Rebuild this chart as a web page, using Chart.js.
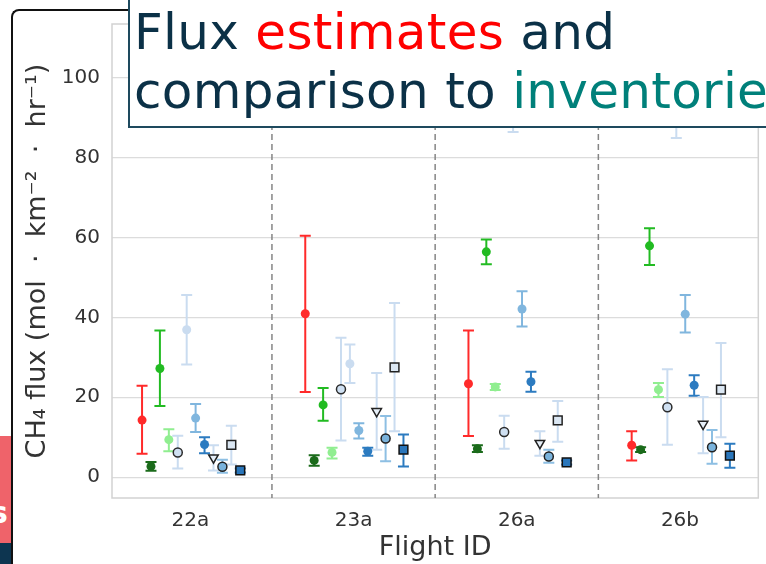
<!DOCTYPE html>
<html>
<head>
<meta charset="utf-8">
<script src="https://cdn.jsdelivr.net/npm/chart.js@4.4.0/dist/chart.umd.min.js"></script>
<style>
  html, body { margin: 0; padding: 0; background: #fff; overflow: hidden; }
  #wrap { position: relative; width: 766px; height: 564px; overflow: hidden; }
  #frame { position: absolute; left: 11px; top: 9px; width: 300px; height: 600px;
           border-left: 2px solid #111; border-top: 2px solid #111; border-top-left-radius: 8px; }
  #slideRed { position: absolute; left: 0; top: 436px; width: 11px; height: 107px; background: #ef636a; overflow: hidden; }
  #slideRed span { position: absolute; left: -10px; top: 62px; color: #fff; font: bold 30px "DejaVu Sans"; line-height: 30px; }
  #slideNavy { position: absolute; left: 0; top: 543px; width: 11px; height: 21px; background: #0d3550; }
  canvas { position: absolute; left: 0; top: 0; }
  #titleBox { position: absolute; left: 128px; top: -5px; width: 700px; height: 133px; box-sizing: border-box;
              background: #fff; border: 2px solid #1e4a5e; padding: 6px 0 0 4px; letter-spacing: 0.3px;
              font-family: "DejaVu Sans"; font-size: 50px; line-height: 59px; color: #0b3147; white-space: nowrap; }
  .red { color: #ff0000; }
  .teal { color: #00807a; }
</style>
</head>
<body>
<div id="wrap">
  <div id="frame"></div>
  <div id="slideRed"><span>s</span></div>
  <div id="slideNavy"></div>
  <canvas id="fluxChart" width="766" height="564"></canvas>
  <div id="titleBox">Flux <span class="red">estimates</span> and<br>comparison to <span class="teal">inventories</span></div>
</div>
<script>
// Vluchten en ticks
const flights = ['22a', '23a', '26a', '26b'];
const yTicks = [0, 20, 40, 60, 80, 100];

// Waarden per reeks (flux en [onder, boven] foutgrenzen)
const redFlux = [14.3, 40.9, 23.4, 8.0];
const redErr = [[5.9, 22.9], [21.3, 60.4], [10.3, 36.7], [4.2, 11.5]];
const darkGreenFlux = [2.7, 4.2, 7.1, 6.9];
const darkGreenErr = [[1.6, 3.8], [2.9, 5.5], [6.3, 8.0], [6.3, 7.5]];
const greenFlux = [27.2, 18.1, 56.4, 57.9];
const greenErr = [[17.8, 36.7], [14.1, 22.3], [53.3, 59.5], [53.1, 62.3]];
const lightGreenFlux = [9.4, 6.2, 22.6, 21.9];
const lightGreenErr = [[6.5, 12.0], [4.7, 7.4], [21.8, 23.3], [20.1, 23.6]];
const openCircleFlux = [6.2, 22.0, 11.3, 17.5];
const openCircleErr = [[2.2, 10.4], [9.2, 34.9], [7.1, 15.4], [8.1, 27.0]];
const paleBlueFlux = [36.9, 28.4, 95.5, 94.0];
const paleBlueErr = [[28.2, 45.6], [23.6, 33.2], [86.4, 104.5], [84.9, 103.0]];
const midBlueFlux = [14.8, 11.7, 42.1, 40.8];
const midBlueErr = [[11.3, 18.3], [9.7, 13.5], [37.7, 46.5], [36.2, 45.6]];
const blueFlux = [8.2, 6.5, 23.9, 23.0];
const blueErr = [[6.0, 10.0], [5.4, 7.4], [21.4, 26.4], [20.4, 25.5]];
const triangleFlux = [4.9, 16.5, 8.5, 13.3];
const triangleErr = [[1.7, 8.0], [6.9, 26.1], [5.4, 11.5], [6.0, 20.1]];
const blueCircleFlux = [2.6, 9.7, 5.2, 7.5];
const blueCircleErr = [[1.1, 4.4], [4.0, 15.3], [3.6, 6.9], [3.4, 11.8]];
const paleSquareFlux = [8.1, 27.5, 14.2, 21.9];
const paleSquareErr = [[3.2, 12.9], [11.5, 43.6], [8.9, 19.1], [10.0, 33.6]];
const blueSquareFlux = [1.7, 6.9, 3.7, 5.4];
const blueSquareErr = [[1.2, 2.2], [2.7, 10.7], [3.2, 4.2], [2.4, 8.4]];

// Opmaak per reeks
const series = [
    { flux: redFlux, err: redErr, line: '#ff2a2a', fill: '#ff2a2a', edge: '#ff2a2a', shape: 'circle', r: 4.5, bw: 0 },
    { flux: darkGreenFlux, err: darkGreenErr, line: '#1b6b1b', fill: '#1b6b1b', edge: '#1b6b1b', shape: 'circle', r: 4.5, bw: 0 },
    { flux: greenFlux, err: greenErr, line: '#22bb22', fill: '#22bb22', edge: '#22bb22', shape: 'circle', r: 4.5, bw: 0 },
    { flux: lightGreenFlux, err: lightGreenErr, line: '#90ee90', fill: '#90ee90', edge: '#90ee90', shape: 'circle', r: 4.5, bw: 0 },
    { flux: openCircleFlux, err: openCircleErr, line: '#cadcf0', fill: '#cfe0f2', edge: '#2b2b2b', shape: 'circle', r: 4.5, bw: 1.5 },
    { flux: paleBlueFlux, err: paleBlueErr, line: '#cadcf0', fill: '#cadcf0', edge: '#cadcf0', shape: 'circle', r: 4.5, bw: 0 },
    { flux: midBlueFlux, err: midBlueErr, line: '#80b6de', fill: '#80b6de', edge: '#80b6de', shape: 'circle', r: 4.5, bw: 0 },
    { flux: blueFlux, err: blueErr, line: '#2c7bc0', fill: '#2c7bc0', edge: '#2c7bc0', shape: 'circle', r: 4.5, bw: 0 },
    { flux: triangleFlux, err: triangleErr, line: '#cadcf0', fill: '#e6eff8', edge: '#222', shape: 'triangle', r: 5.5, bw: 1.5, rot: 180 },
    { flux: blueCircleFlux, err: blueCircleErr, line: '#8dbfe3', fill: '#7ab3dc', edge: '#222', shape: 'circle', r: 4.5, bw: 1.5 },
    { flux: paleSquareFlux, err: paleSquareErr, line: '#cadcf0', fill: '#dbe7f3', edge: '#222', shape: 'rect', r: 6.2, bw: 1.5 },
    { flux: blueSquareFlux, err: blueSquareErr, line: '#2c7bc0', fill: '#2a76bb', edge: '#111', shape: 'rect', r: 6.2, bw: 1.5 }
];

const step = 0.0547; // verschuiving tussen reeksen binnen een vlucht

const datasets = series.map((s, i) => ({
    data: s.flux.map((v, k) => ({ x: k + (i - 5.5) * step + 0.005, y: v, lo: s.err[k][0], hi: s.err[k][1] })),
    showLine: false,
    pointStyle: s.shape,
    pointRadius: s.r,
    pointHoverRadius: s.r,
    pointBackgroundColor: s.fill,
    pointBorderColor: s.edge,
    pointBorderWidth: s.bw,
    pointRotation: s.rot || 0,
    errColor: s.line
}));

// Kader, scheidingslijnen en foutbalken
const decorations = {
    id: 'decorations',
    beforeDatasetsDraw(chart) {
        const { ctx, chartArea: a, scales: { x, y } } = chart;
        ctx.save();
        ctx.strokeStyle = '#d2d2d2';
        ctx.lineWidth = 1.5;
        ctx.strokeRect(a.left, a.top, a.right - a.left, a.bottom - a.top);

        ctx.strokeStyle = '#858585';
        ctx.setLineDash([6, 4]);
        for (let i = 0; i < flights.length - 1; i++) {
            const px = x.getPixelForValue(i + 0.5);
            ctx.beginPath();
            ctx.moveTo(px, a.top);
            ctx.lineTo(px, a.bottom);
            ctx.stroke();
        }
        ctx.setLineDash([]);

        ctx.beginPath();
        ctx.rect(a.left, a.top, a.right - a.left, a.bottom - a.top);
        ctx.clip();
        ctx.lineWidth = 2;
        chart.data.datasets.forEach(ds => {
            ctx.strokeStyle = ds.errColor;
            ds.data.forEach(p => {
                const px = x.getPixelForValue(p.x);
                const y0 = y.getPixelForValue(p.lo);
                const y1 = y.getPixelForValue(p.hi);
                ctx.beginPath();
                ctx.moveTo(px, y0); ctx.lineTo(px, y1);
                ctx.moveTo(px - 5.5, y0); ctx.lineTo(px + 5.5, y0);
                ctx.moveTo(px - 5.5, y1); ctx.lineTo(px + 5.5, y1);
                ctx.stroke();
            });
        });
        ctx.restore();
    }
};

new Chart(document.getElementById('fluxChart').getContext('2d'), {
    type: 'scatter',
    data: { datasets: datasets },
    plugins: [decorations],
    options: {
        responsive: false,
        animation: false,
        layout: { padding: { top: 20, right: 3, left: 14, bottom: 0 } },
        plugins: { legend: { display: false }, tooltip: { enabled: false } },
        scales: {
            x: {
                type: 'linear', min: -0.48, max: 3.48,
                afterBuildTicks: s => { s.ticks = flights.map((f, i) => ({ value: i })); },
                afterFit: s => { s.height = 66; },
                grid: { display: false, drawTicks: false },
                border: { display: false },
                ticks: { callback: v => flights[v], font: { family: 'DejaVu Sans', size: 20 }, color: '#333', padding: 11, maxRotation: 0 },
                title: { display: true, text: 'Flight ID', font: { family: 'DejaVu Sans', size: 27 }, color: '#333', padding: { top: 0, bottom: 0 } }
            },
            y: {
                min: -5.2, max: 113.4,
                afterBuildTicks: s => { s.ticks = yTicks.map(v => ({ value: v })); },
                afterFit: s => { s.width = 98; },
                grid: { color: '#dcdcdc', lineWidth: 1.3, drawTicks: false },
                border: { display: false },
                ticks: { font: { family: 'DejaVu Sans', size: 20 }, color: '#333', padding: 12 },
                title: { display: true, text: 'CH₄ flux (mol  ·  km⁻²  ·  hr⁻¹)', font: { family: 'DejaVu Sans', size: 27 }, color: '#333', padding: { top: 8, bottom: 0 } }
            }
        }
    }
});
</script>
</body>
</html>
